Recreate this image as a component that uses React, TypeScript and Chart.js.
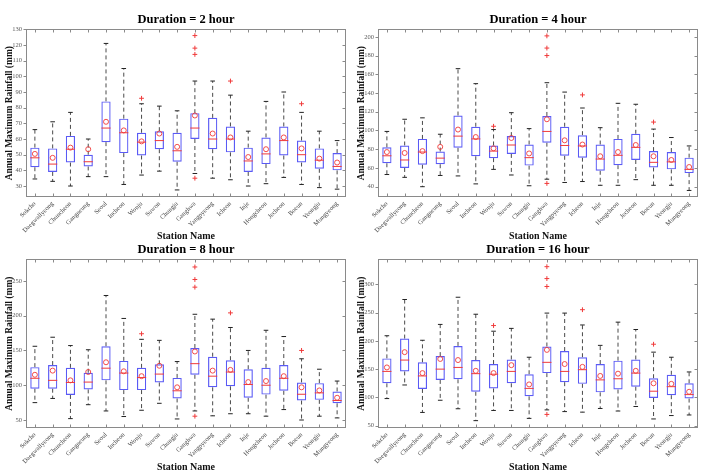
import React, { useEffect, useRef } from "react";
import { Chart, registerables } from "chart.js";

Chart.register(...registerables);

const STATIONS = [
  "Sokcho", "Daegwallyeong", "Chuncheon", "Gangneung", "Seoul", "Incheon",
  "Wonju", "Suwon", "Chungju", "Ganghwa", "Yangpyeong", "Icheon",
  "Inje", "Hongcheon", "Jecheon", "Boeun", "Yeongju", "Mungyeong",
];

// Duration = 2 hour
const LOW_2H = [34.5, 33, 30, 36, 36, 31, 37, 39.5, 27.5, 38, 35, 34, 30, 31.5, 35.5, 31, 29, 28];
const Q1_2H = [42, 39, 45, 42.5, 58, 51, 49.5, 53.5, 45.5, 60, 53.5, 51.5, 39, 44, 49.5, 45, 41, 40];
const MED_2H = [48, 44, 53.5, 45.5, 67, 64, 58, 59, 52.5, 67, 60, 60, 46, 50.5, 59, 50, 46.5, 42.5];
const Q3_2H = [54.5, 54, 62, 50, 84, 73, 64, 65, 64, 76.5, 73.5, 68, 54.5, 61, 68, 59, 54, 51];
const HIGH_2H = [66, 71, 77, 60, 121, 105, 82.5, 81, 78, 97, 97, 88, 65, 84, 90, 77, 65, 59];
const MEAN_2H = [50.5, 48, 54.5, 53.5, 71, 65.5, 58.5, 63.5, 55, 75, 63.5, 61, 48.5, 53.5, 61, 54, 47.5, 45];
const OUTLIERS_2H = [[6, 86], [9, 114], [9, 118], [9, 126], [9, 35], [11, 97], [15, 82.5]];
const Y_TICKS_2H = [30, 40, 50, 60, 70, 80, 90, 100, 110, 120, 130];

// Duration = 4 hour
const LOW_4H = [53, 50, 40, 52, 51.5, 43, 58.5, 52.5, 41, 48, 44.5, 45.5, 41.5, 41.5, 47.5, 41.5, 41.5, 36];
const Q1_4H = [65, 60, 63.5, 64, 81.5, 72.5, 70.5, 75, 62.5, 87, 73, 71, 57, 63, 68.5, 60.5, 58.5, 54.5];
const MED_4H = [73, 68.5, 77, 70.5, 94, 91, 78, 84.5, 71, 99, 84, 83.5, 69.5, 73.5, 82, 66, 66.5, 58.5];
const Q3_4H = [82, 84, 91, 77.5, 116, 104, 84, 94, 85, 115.5, 104, 95, 85, 91, 96.5, 78, 77, 71];
const HIGH_4H = [99, 112, 113.5, 96, 166, 150, 101, 119, 102, 151, 141, 124, 103, 129, 128, 101.5, 92.5, 83.5];
const MEAN_4H = [77, 76, 78, 82.5, 101, 93, 81, 92, 75.5, 112, 89.5, 85, 72.5, 77, 84.5, 72.5, 68.5, 61];
const OUTLIERS_4H = [[6, 104.5], [9, 180], [9, 188], [9, 201], [9, 43.5], [11, 138], [15, 109]];
const Y_TICKS_4H = [40, 60, 80, 100, 120, 140, 160, 180, 200];

// Duration = 8 hour
const LOW_8H = [75, 81, 52, 72, 63, 55, 64, 74, 51.5, 63, 56, 59, 59, 55.5, 65, 50, 55.5, 53];
const Q1_8H = [95, 95, 86, 94, 107, 93, 93, 104, 81, 115, 97, 98.5, 82, 86.5, 92, 78, 79, 74];
const MED_8H = [110, 107, 104, 104.5, 124.5, 117.5, 111, 116, 92, 131, 113, 119, 101, 100, 110, 87, 89, 78];
const Q3_8H = [126, 129, 125, 118, 156, 135, 125, 130, 110.5, 153.5, 141, 136, 123, 125, 129, 104, 103, 91];
const HIGH_8H = [156, 169, 157, 151, 229, 196, 166, 164.5, 134, 202, 195, 183, 150, 179, 170, 138, 123, 106];
const MEAN_8H = [115, 121, 107, 119, 133, 120, 113, 128, 97, 148.5, 121, 122, 104.5, 106, 113, 97, 92.5, 82];
const OUTLIERS_8H = [[6, 174], [9, 241], [9, 252], [9, 270], [9, 55.5], [11, 204], [15, 150]];
const Y_TICKS_8H = [50, 100, 150, 200, 250];

// Duration = 16 hour
const LOW_16H = [98, 122, 73.5, 95, 80, 59, 77, 77, 63, 78, 75, 74, 80.5, 76, 84, 62, 68, 69];
const Q1_16H = [125, 146, 115, 131, 132, 110, 116, 125, 102, 143, 127, 124, 109, 114, 119, 99, 104, 98];
const MED_16H = [146, 166, 138, 150, 153, 142, 141, 146, 116, 162, 146, 149, 131, 133, 143, 111, 119, 105];
const Q3_16H = [169, 204, 162, 173, 191, 166, 159, 167, 141, 190, 182, 171, 159, 165, 167, 134, 140, 125];
const HIGH_16H = [209, 273, 201, 229, 277, 247, 217, 222, 171, 249, 249, 228, 192, 233, 220, 180, 171, 145];
const MEAN_16H = [153, 180, 143, 168, 166, 147, 143, 157, 123, 184, 159, 154, 138, 142, 147, 125, 124, 110];
const OUTLIERS_16H = [[6, 227], [9, 296], [9, 310], [9, 331], [9, 70], [11, 255], [15, 194]];
const Y_TICKS_16H = [50, 100, 150, 200, 250, 300];

const SERIF = "'Liberation Serif', 'Times New Roman', serif";
const BOX_BLUE = "#5a5af5";
const RED = "#f03a3a";
const WHISKER = "#4a4a4a";
const AXIS_GRAY = "#8a8a8a";

type Panel = {
  title: string;
  low: number[];
  q1: number[];
  med: number[];
  q3: number[];
  high: number[];
  mean: number[];
  outliers: number[][];
  yMin: number;
  yMax: number;
  yTicks: number[];
};

const PANELS: Panel[] = [
  { title: "Duration = 2 hour", low: LOW_2H, q1: Q1_2H, med: MED_2H, q3: Q3_2H, high: HIGH_2H, mean: MEAN_2H, outliers: OUTLIERS_2H, yMin: 23, yMax: 130, yTicks: Y_TICKS_2H },
  { title: "Duration = 4 hour", low: LOW_4H, q1: Q1_4H, med: MED_4H, q3: Q3_4H, high: HIGH_4H, mean: MEAN_4H, outliers: OUTLIERS_4H, yMin: 29, yMax: 208, yTicks: Y_TICKS_4H },
  { title: "Duration = 8 hour", low: LOW_8H, q1: Q1_8H, med: MED_8H, q3: Q3_8H, high: HIGH_8H, mean: MEAN_8H, outliers: OUTLIERS_8H, yMin: 38.5, yMax: 281, yTicks: Y_TICKS_8H },
  { title: "Duration = 16 hour", low: LOW_16H, q1: Q1_16H, med: MED_16H, q3: Q3_16H, high: HIGH_16H, mean: MEAN_16H, outliers: OUTLIERS_16H, yMin: 46, yMax: 344, yTicks: Y_TICKS_16H },
];

// Axes frame with small tick marks on all four sides
const framePlugin = {
  id: "frame",
  afterDatasetsDraw(chart: any) {
    const { ctx, chartArea: a, scales } = chart;
    const L = Math.round(a.left) + 0.5;
    const R = Math.round(a.right) - 0.5;
    const T = Math.round(a.top) + 0.5;
    const B = Math.round(a.bottom) - 0.5;
    ctx.save();
    ctx.strokeStyle = AXIS_GRAY;
    ctx.lineWidth = 1;
    ctx.strokeRect(L, T, R - L, B - T);
    ctx.beginPath();
    const tl = 3;
    scales.x.ticks.forEach((_: any, i: number) => {
      const px = Math.round(scales.x.getPixelForTick(i)) + 0.5;
      ctx.moveTo(px, B);
      ctx.lineTo(px, B - tl);
      ctx.moveTo(px, T);
      ctx.lineTo(px, T + tl);
    });
    scales.y.ticks.forEach((t: any) => {
      const py = Math.round(scales.y.getPixelForValue(t.value)) + 0.5;
      ctx.moveTo(L - tl, py);
      ctx.lineTo(L, py);
      ctx.moveTo(R, py);
      ctx.lineTo(R - tl, py);
    });
    ctx.stroke();
    ctx.restore();
  },
};

const whiskerData = (from: number[], to: number[]) =>
  from.flatMap((v, i) => [
    { x: STATIONS[i], y: v },
    { x: STATIONS[i], y: to[i] },
    { x: STATIONS[i], y: null },
  ]);

const pointData = (vals: number[]) => vals.map((v, i) => ({ x: STATIONS[i], y: v }));

function BoxPanel({ panel, left, top, height, isTop }: { panel: Panel; left: number; top: number; height: number; isTop: boolean }) {
  const ref = useRef<HTMLCanvasElement | null>(null);

  useEffect(() => {
    if (!ref.current) return;
    const titlePadTop = isTop ? 12.2 : 6.2;
    const xAxisHeight = isTop ? 49 : 44;
    const xTitlePadBottom = isTop ? 5 : 0;

    const chart = new Chart(ref.current, {
      type: "bar",
      data: {
        labels: STATIONS,
        datasets: [
          {
            type: "bar",
            order: 3,
            data: panel.q1.map((q, i) => [q, panel.q3[i]]) as any,
            backgroundColor: "rgba(0,0,0,0)",
            borderColor: BOX_BLUE,
            borderWidth: 1.2,
            borderSkipped: false,
            barPercentage: 0.52,
            categoryPercentage: 1,
          } as any,
          {
            type: "line",
            order: 4,
            data: whiskerData(panel.q3, panel.high) as any,
            borderColor: WHISKER,
            borderWidth: 1,
            borderDash: [4, 3],
            pointRadius: 0,
            spanGaps: false,
            fill: false,
          } as any,
          {
            type: "line",
            order: 4,
            data: whiskerData(panel.q1, panel.low) as any,
            borderColor: WHISKER,
            borderWidth: 1,
            borderDash: [4, 3],
            pointRadius: 0,
            spanGaps: false,
            fill: false,
          } as any,
          {
            type: "line",
            order: 2,
            data: [...pointData(panel.high), ...pointData(panel.low)] as any,
            showLine: false,
            pointStyle: "line",
            pointRadius: 2.3,
            pointBorderColor: "#222",
            pointBorderWidth: 1,
          } as any,
          {
            type: "line",
            order: 1,
            data: pointData(panel.med) as any,
            showLine: false,
            pointStyle: "line",
            pointRadius: 4.6,
            pointBorderColor: RED,
            pointBorderWidth: 1,
          } as any,
          {
            type: "line",
            order: 1,
            data: panel.outliers.map(([s, v]) => ({ x: STATIONS[s], y: v })) as any,
            showLine: false,
            pointStyle: "cross",
            pointRadius: 2.4,
            pointBorderColor: RED,
            pointBorderWidth: 1,
          } as any,
          {
            type: "line",
            order: 0,
            data: pointData(panel.mean) as any,
            showLine: false,
            pointStyle: "circle",
            pointRadius: 2.5,
            pointBackgroundColor: "rgba(0,0,0,0)",
            pointBorderColor: RED,
            pointBorderWidth: 0.9,
          } as any,
        ],
      },
      options: {
        responsive: false,
        animation: false,
        events: [],
        layout: { padding: { left: 0, right: 6, top: 0, bottom: 0 } },
        plugins: {
          legend: { display: false },
          tooltip: { enabled: false },
          title: {
            display: true,
            fullSize: false,
            text: panel.title,
            color: "#000",
            font: { family: SERIF, size: 12.5, weight: "bold", lineHeight: 1.25 },
            padding: { top: titlePadTop, bottom: 1.5 },
          },
        },
        scales: {
          x: {
            type: "category",
            offset: true,
            grid: { display: false, drawTicks: false, tickLength: 0 },
            border: { display: false },
            ticks: {
              autoSkip: false,
              minRotation: 45,
              maxRotation: 45,
              padding: 3,
              color: "#444",
              font: { family: SERIF, size: 6.5 },
            },
            title: {
              display: true,
              text: "Station Name",
              color: "#111",
              font: { family: SERIF, size: 10, weight: "bold", lineHeight: 1 },
              padding: { top: 0, bottom: xTitlePadBottom },
            },
            afterFit: (s: any) => {
              s.height = xAxisHeight;
            },
          },
          y: {
            type: "linear",
            min: panel.yMin,
            max: panel.yMax,
            grid: { display: false, drawTicks: false, tickLength: 0 },
            border: { display: false },
            afterBuildTicks: (s: any) => {
              s.ticks = panel.yTicks.map((v) => ({ value: v }));
            },
            ticks: {
              color: "#5a5a5a",
              padding: 4,
              font: { family: SERIF, size: 6.5 },
            },
            title: {
              display: true,
              text: "Annual Maximum Rainfall (mm)",
              color: "#111",
              font: { family: SERIF, size: 9.5, weight: "bold", lineHeight: 1.2 },
              padding: { top: 4.3, bottom: 0 },
            },
            afterFit: (s: any) => {
              s.width = 26;
            },
          },
        },
      } as any,
      plugins: [framePlugin],
    });
    return () => chart.destroy();
  }, [panel, height, isTop]);

  return (
    <canvas
      ref={ref}
      width={352}
      height={height}
      style={{ position: "absolute", left, top, width: 352, height }}
    />
  );
}

export default function App() {
  return (
    <div
      style={{
        position: "fixed",
        left: 0,
        top: 0,
        width: 704,
        height: 472,
        background: "#fff",
        overflow: "hidden",
      }}
    >
      {PANELS.map((p, i) => (
        <BoxPanel
          key={i}
          panel={p}
          left={(i % 2) * 352}
          top={i < 2 ? 0 : 236}
          height={i < 2 ? 246 : 236}
          isTop={i < 2}
        />
      ))}
    </div>
  );
}
